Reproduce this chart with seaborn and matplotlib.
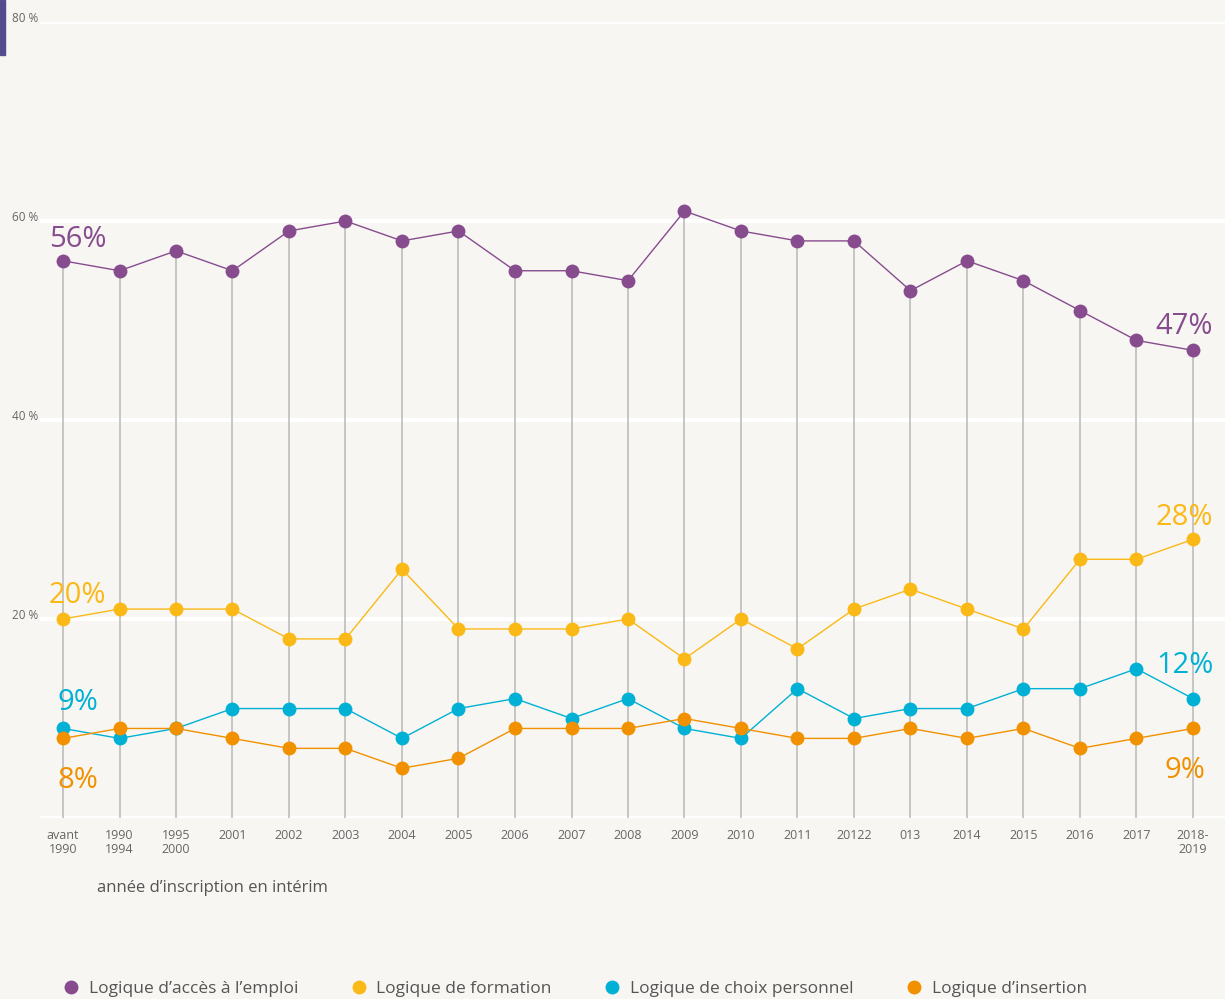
import matplotlib
matplotlib.use("Agg")
import matplotlib.pyplot as plt
from matplotlib.lines import Line2D
from matplotlib.patches import Rectangle
import seaborn as sns
import pandas as pd

categories = ["avant\n1990", "1990\n1994", "1995\n2000", "2001", "2002", "2003", "2004", "2005",
              "2006", "2007", "2008", "2009", "2010", "2011", "20122", "013", "2014", "2015",
              "2016", "2017", "2018-\n2019"]
acces_emploi = [56, 55, 57, 55, 59, 60, 58, 59, 55, 55, 54, 61, 59, 58, 58, 53, 56, 54, 51, 48, 47]
formation = [20, 21, 21, 21, 18, 18, 25, 19, 19, 19, 20, 16, 20, 17, 21, 23, 21, 19, 26, 26, 28]
choix_perso = [9, 8, 9, 11, 11, 11, 8, 11, 12, 10, 12, 9, 8, 13, 10, 11, 11, 13, 13, 15, 12]
insertion = [8, 9, 9, 8, 7, 7, 5, 6, 9, 9, 9, 10, 9, 8, 8, 9, 8, 9, 7, 8, 9]
y_ticks = [20, 40, 60, 80]

series = {
    "Logique d\u2019acc\u00e8s \u00e0 l\u2019emploi": (acces_emploi, "#874c8e"),
    "Logique de formation": (formation, "#fbb917"),
    "Logique de choix personnel": (choix_perso, "#00b1d5"),
    "Logique d\u2019insertion": (insertion, "#f29100"),
}

bg = "#f7f6f2"
sns.set_style("white")
plt.rcParams["font.family"] = ["Open Sans", "DejaVu Sans"]

fig = plt.figure(figsize=(12.25, 9.99), dpi=100, facecolor=bg)
W, H = 1225, 999
ax = fig.add_axes([40 / W, (999 - 818) / H, 1 - 40 / W, (818 - 22) / H])
ax.set_facecolor(bg)
x = list(range(len(categories)))
ax.set_xlim(-(63 - 40) / 56.5, (1225 - 63) / 56.5)
ax.set_ylim(0, 80)

# white grid lines + labels
for t in [0] + y_ticks:
    ax.axhline(t, color="white", lw=3, zorder=0)
for t in y_ticks:
    fig.text(12 / W, (999 - 818 + t * 9.95 - 3) / H, f"{t} %", fontsize=8.5, color="#666666",
             ha="left", va="bottom")

# gray drop lines
ax.vlines(x, 0, acces_emploi, color="#bdbdbd", lw=1.2, zorder=1)

rows = []
for name, (vals, col) in series.items():
    for i, v in enumerate(vals):
        rows.append({"x": i, "y": v, "serie": name})
df = pd.DataFrame(rows)
palette = {k: v[1] for k, v in series.items()}
sns.lineplot(data=df, x="x", y="y", hue="serie", palette=palette, lw=1, marker="o",
             markersize=10, markeredgewidth=0, legend=False, ax=ax, zorder=3)

# end labels
labels = [
    (acces_emploi, "#874c8e", 2.1, 2.4),
    (formation, "#fbb917", 2.4, 2.2),
    (choix_perso, "#00b1d5", 2.6, 3.3),
    (insertion, "#f29100", -4.2, -4.2),
]
for vals, col, dy0, dy1 in labels:
    ax.text(0.26, vals[0] + dy0, f"{vals[0]}%", color=col, fontsize=21, ha="center", va="center")
    ax.text(19.85, vals[-1] + dy1, f"{vals[-1]}%", color=col, fontsize=21, ha="center", va="center")

ax.set_xticks(x)
ax.set_xticklabels(categories, fontsize=9, color="#666666", linespacing=1.1)
ax.tick_params(axis="x", length=0, pad=8)
ax.set_yticks([])
ax.set_xlabel("")
ax.set_ylabel("")
sns.despine(ax=ax, left=True, bottom=True)

fig.text(97 / W, (999 - 888) / H, "ann\u00e9e d\u2019inscription en int\u00e9rim", fontsize=12,
         color="#555555", ha="left", va="center")

handles = [Line2D([0], [0], marker="o", color=c, lw=0, markersize=10, markeredgewidth=0)
           for _, c in series.values()]
fig.legend(handles, list(series.keys()), loc="center left", bbox_to_anchor=(47 / W, 10 / H),
           ncol=4, frameon=False, fontsize=12.5, labelcolor="#555555", handletextpad=0.5,
           columnspacing=3.0, handlelength=1)

fig.patches.append(Rectangle((0, 1 - 55 / H), 5 / W, 55 / H, transform=fig.transFigure,
                             color="#524b8e", zorder=5))

fig.savefig("out.png", dpi=100, facecolor=bg)
